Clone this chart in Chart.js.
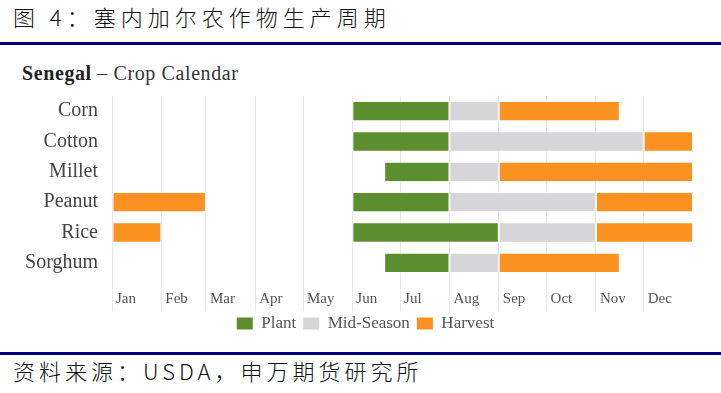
<!DOCTYPE html>
<html>
<head>
<meta charset="utf-8">
<script src="https://cdn.jsdelivr.net/npm/chart.js@4"></script>
<style>
  html, body { margin: 0; padding: 0; background: #fff; }
  body { width: 721px; height: 393px; position: relative; overflow: hidden; }
  .fig-title {
    position: absolute; left: 13px; top: 3px;
    font-family: "Noto Sans CJK SC", sans-serif; font-size: 22px; font-weight: 300; line-height: 26px;
    letter-spacing: 5px; color: #111;
  }
  .rule { position: absolute; left: 0; width: 721px; height: 3px; background: #00007f; }
  .sub {
    position: absolute; left: 22px; top: 62px;
    font-family: "Liberation Serif", serif; font-size: 20px; color: #333; letter-spacing: 0.6px;
  }
  .sub b { color: #222; }
  .source {
    position: absolute; left: 13px; top: 357px;
    font-family: "Noto Sans CJK SC", sans-serif; font-size: 22px; font-weight: 300; line-height: 26px;
    letter-spacing: 4px; color: #111;
  }
  #wrap { position: absolute; left: 0; top: 78px; width: 721px; height: 261px; }
</style>
</head>
<body>
<div class="fig-title">图 4：塞内加尔农作物生产周期</div>
<div class="rule" style="top:42px"></div>
<div class="sub"><b>Senegal</b> – Crop Calendar</div>
<div id="wrap"><canvas id="cropChart" width="721" height="261"></canvas></div>
<div class="rule" style="top:352px"></div>
<div class="source">资料来源：USDA，申万期货研究所</div>

<script>
// Crops and months
const crops = ['Corn', 'Cotton', 'Millet', 'Peanut', 'Rice', 'Sorghum'];
const months = ['Jan', 'Feb', 'Mar', 'Apr', 'May', 'Jun', 'Jul', 'Aug', 'Sep', 'Oct', 'Nov', 'Dec'];
const monthStarts = [0, 31, 59, 90, 120, 151, 181, 212, 243, 273, 304, 334];

// Day-of-year ranges [start, end] for each crop
const plant = [[151, 212], [151, 212], [171, 212], [151, 212], [151, 243], [171, 212]];
const midSeason = [[212, 243], [212, 334], [212, 243], [212, 304], [243, 304], [212, 243]];
const harvest = [[243, 319], [334, 365], [243, 365], [304, 365], [304, 365], [243, 319]];
const harvestEarly = [null, null, null, [0, 59], [0, 31], null];

const green = '#5b8e2e';
const grey = '#d6d5d8';
const orange = '#fb9121';
const gridColor = '#e8e8e8';
const serif = 'Liberation Serif';

function barSet(label, data, color) {
  return {
    label: label,
    data: data,
    backgroundColor: color,
    borderColor: 'rgba(255,255,255,0.55)',
    borderWidth: 1,
    borderSkipped: false,
    grouped: false,
    categoryPercentage: 1,
    barPercentage: 0.67
  };
}

// Grid lines run on down through the month labels
const gridExtend = {
  id: 'gridExtend',
  beforeDatasetsDraw(chart) {
    const ctx = chart.ctx;
    const x = chart.scales.x;
    const bottom = chart.chartArea.bottom;
    ctx.save();
    ctx.strokeStyle = gridColor;
    ctx.lineWidth = 1;
    ctx.beginPath();
    monthStarts.forEach(v => {
      const px = Math.round(x.getPixelForValue(v) - 0.5) + 0.5;
      ctx.moveTo(px, bottom);
      ctx.lineTo(px, bottom + 33);
    });
    ctx.stroke();
    ctx.restore();
  }
};

// Nudge the legend a little to the right, as in the source
const legendShift = {
  id: 'legendShift',
  afterLayout(chart) {
    if (chart.legend) {
      chart.legend.left += 8;
      chart.legend.right += 8;
    }
  }
};

new Chart(document.getElementById('cropChart'), {
  type: 'bar',
  data: {
    labels: crops,
    datasets: [
      barSet('Plant', plant, green),
      barSet('Mid-Season', midSeason, grey),
      barSet('Harvest', harvest, orange),
      barSet('Harvest (early)', harvestEarly, orange)
    ]
  },
  plugins: [gridExtend, legendShift],
  options: {
    indexAxis: 'y',
    responsive: false,
    animation: false,
    layout: { padding: { top: 8, left: 22, right: 28, bottom: 0 } },
    scales: {
      x: {
        type: 'linear',
        min: 0,
        max: 365,
        afterBuildTicks: (axis) => {
          axis.ticks = monthStarts.map(v => ({ value: v }));
        },
        afterFit: (scale) => { scale.height = 30; },
        grid: { color: gridColor, lineWidth: 1, drawTicks: false },
        border: { display: false },
        ticks: {
          autoSkip: false,
          maxRotation: 0,
          align: 'start',
          labelOffset: 4,
          padding: 14,
          color: '#555',
          font: { family: serif, size: 15, lineHeight: 1 },
          callback: (value) => months[monthStarts.indexOf(value)]
        }
      },
      y: {
        grid: { display: false },
        border: { display: false },
        afterFit: (scale) => { scale.width = 90; },
        ticks: {
          color: '#444',
          padding: 6,
          font: { family: serif, size: 20 }
        }
      }
    },
    plugins: {
      legend: {
        position: 'bottom',
        maxHeight: 31,
        labels: {
          boxWidth: 16,
          boxHeight: 12,
          padding: 7,
          color: '#555',
          font: { family: serif, size: 17 },
          generateLabels: (chart) => Chart.defaults.plugins.legend.labels.generateLabels(chart)
            .filter(item => item.datasetIndex < 3)
            .map(item => ({ ...item, lineWidth: 0 }))
        }
      },
      tooltip: { enabled: false }
    }
  }
});
</script>
</body>
</html>
